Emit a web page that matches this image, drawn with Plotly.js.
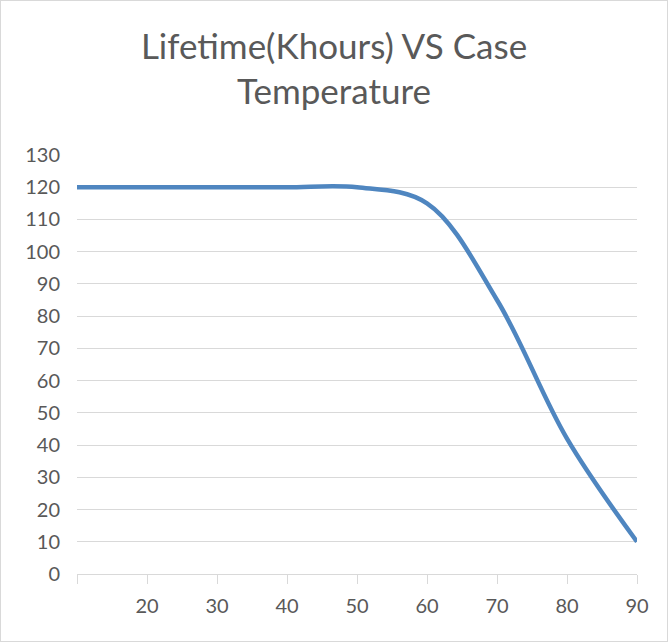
<!DOCTYPE html>
<html>
<head>
<meta charset="utf-8">
<script src="https://cdn.plot.ly/plotly-3.0.1.min.js"></script>
<style>
  html, body { margin: 0; padding: 0; background: #ffffff; }
  #frame { width: 666px; height: 640px; border: 1px solid #d9d9d9; }
  #chart { width: 666px; height: 640px; }
</style>
</head>
<body>
<div id="frame"><div id="chart"></div></div>
<script>
const chartTitle = "Lifetime(Khours) VS Case<br>Temperature";
const temperature = [10, 20, 30, 40, 50, 60, 70, 80, 90];
const lifetime = [120, 120, 120, 120, 120, 115, 85, 42, 10];
const xTickVals = [10, 20, 30, 40, 50, 60, 70, 80, 90];
const xTickText = ["", "20", "30", "40", "50", "60", "70", "80", "90"];
const yTickVals = [0, 10, 20, 30, 40, 50, 60, 70, 80, 90, 100, 110, 120, 130];

const font = "Lato, 'Open Sans', sans-serif";
const textColor = "#595959";
const gridColor = "#d9d9d9";

const trace = {
  x: temperature,
  y: lifetime,
  type: "scatter",
  mode: "lines",
  line: { color: "#4f86c0", width: 4.5, shape: "spline", smoothing: 1 },
  hoverinfo: "x+y"
};

const layout = {
  width: 666,
  height: 640,
  margin: { l: 76, r: 30, t: 154, b: 67, pad: 0 },
  paper_bgcolor: "#ffffff",
  plot_bgcolor: "#ffffff",
  showlegend: false,
  font: { family: font, color: textColor },
  title: {
    text: chartTitle,
    font: { family: font, size: 35, color: textColor },
    x: 0.5, xref: "container", xanchor: "center",
    y: 0.91, yref: "container", yanchor: "top"
  },
  xaxis: {
    range: [10, 90],
    tickvals: xTickVals,
    ticktext: xTickText,
    ticks: "outside",
    ticklen: 9,
    tickwidth: 1,
    tickcolor: gridColor,
    showline: true,
    linecolor: gridColor,
    linewidth: 1,
    showgrid: false,
    zeroline: false,
    tickfont: { family: font, size: 20, color: textColor },
    ticklabelstandoff: 5,
    fixedrange: true
  },
  yaxis: {
    range: [0, 130],
    tickvals: yTickVals,
    ticks: "",
    showline: false,
    showgrid: true,
    gridcolor: gridColor,
    gridwidth: 1,
    zeroline: false,
    tickfont: { family: font, size: 20, color: textColor },
    ticklabelstandoff: 16,
    fixedrange: true
  }
};

Plotly.newPlot("chart", [trace], layout, { displayModeBar: false, staticPlot: true });
</script>
</body>
</html>
